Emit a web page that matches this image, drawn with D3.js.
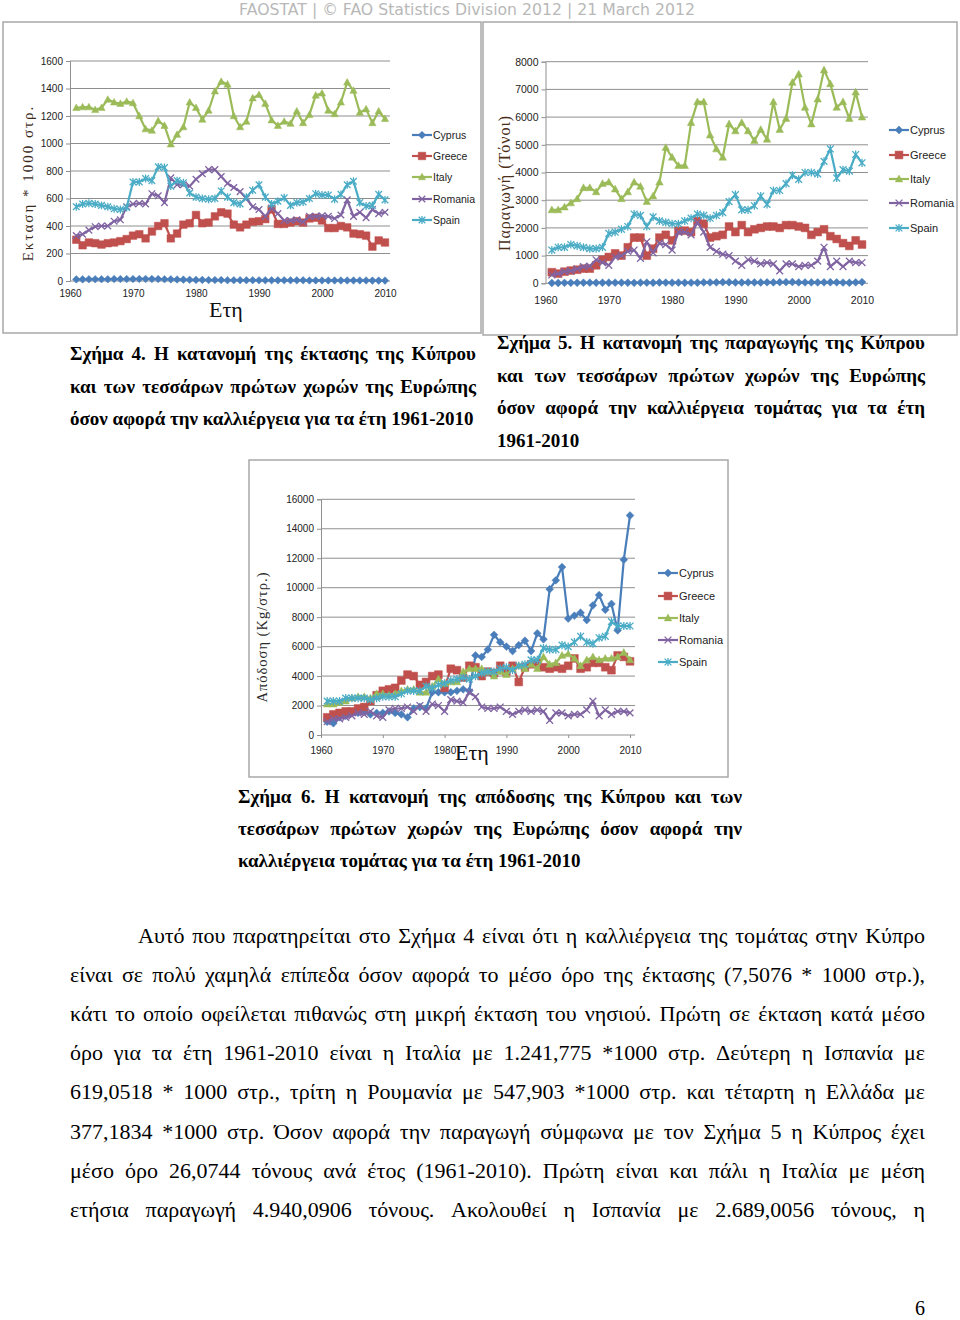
<!DOCTYPE html>
<html><head><meta charset="utf-8">
<script src="https://cdn.jsdelivr.net/npm/d3@7"></script>
<style>body{margin:0;background:#fff} svg{display:block}</style>
</head><body><svg id="page" width="960" height="1320"></svg>
<script>
// ---------- DATA ----------
const years = d3.range(1961, 2011);
const countries = ["Cyprus", "Greece", "Italy", "Romania", "Spain"];
const colors = ["#4a7ebb", "#c0504d", "#9bbb59", "#8064a2", "#4bacc6"];
const xTicks = [1960, 1970, 1980, 1990, 2000, 2010];
const areaTicks = [0, 200, 400, 600, 800, 1000, 1200, 1400, 1600];
const prodTicks = [0, 1000, 2000, 3000, 4000, 5000, 6000, 7000, 8000];
const yieldTicks = [0, 2000, 4000, 6000, 8000, 10000, 12000, 14000, 16000];

// Area (1000 str.)
const areaCyprus = [12,12,13,13,13,13,14,14,14,14, 15,15,15,14,13,12,11,10,9,8, 8,7,7,7,6,6,6,6,6,5, 5,5,5,5,5,5,5,4,4,4, 4,4,4,4,4,4,4,3,3,3];
const areaGreece = [300,260,280,275,265,275,280,290,305,330, 340,310,360,400,420,310,345,410,420,480, 420,425,470,500,490,410,390,410,430,435, 450,520,415,415,425,435,425,455,460,440, 385,385,400,390,345,340,330,250,295,280];
const areaItaly = [1260,1265,1265,1245,1260,1320,1300,1290,1305,1295, 1200,1105,1095,1165,1130,995,1065,1120,1300,1260, 1175,1240,1380,1450,1430,1200,1120,1160,1330,1355, 1290,1170,1130,1160,1145,1235,1150,1210,1350,1365, 1240,1215,1300,1445,1385,1225,1250,1150,1235,1180];
const areaRomania = [330,340,370,395,400,400,435,445,540,560, 565,560,635,620,570,750,700,700,690,740, 780,810,810,760,710,680,650,600,540,520, 470,530,490,440,440,445,430,470,470,475, 470,455,480,590,470,500,460,520,490,500];
const areaSpain = [540,560,565,560,550,540,525,520,535,720, 720,745,730,830,825,690,730,715,640,610, 600,595,600,655,610,570,560,610,660,700, 610,560,580,605,550,570,575,600,635,625, 625,595,630,700,725,570,545,550,630,590];

// Production (tonnes, chart units)
const prodCyprus = [11,10,16,17,20,20,22,20,21,21, 24,23,21,17,23,23,20,29,26,23, 23,21,22,21,32,32,35,41,38,30, 29,31,32,29,35,33,40,42,46,32, 32,33,31,35,38,34,27,21,36,45];
const prodGreece = [400,350,420,460,490,530,530,650,850,950, 1080,1000,1300,1650,1650,1000,1250,1650,1750,1550, 1900,1900,1850,2250,2150,1650,1700,1750,2050,1850, 2100,1850,1950,2000,2050,2050,2000,2100,2100,2050, 2000,1750,1850,1950,1700,1600,1450,1350,1550,1400];
const prodItaly = [2650,2650,2750,2900,3050,3450,3450,3300,3600,3650, 3400,3050,3300,3650,3500,2950,3150,3650,4900,4550, 4250,4250,5800,6550,6550,5350,4850,4550,5750,5500, 5800,5500,5150,5550,5200,6550,5550,5950,7250,7550, 6350,5750,6650,7700,7200,6350,6550,5950,6900,6000];
const prodRomania = [300,350,420,450,520,600,620,850,750,650, 950,1000,1150,1200,900,1500,1100,1450,1400,1200, 1850,1850,1750,2200,1850,1300,1150,1050,1000,800, 650,850,800,700,750,700,450,700,700,600, 650,650,800,1300,600,800,600,800,750,750];
const prodSpain = [1200,1300,1300,1400,1350,1300,1250,1250,1300,1800, 1850,1950,2050,2500,2450,2050,2400,2250,2200,2150, 2150,2250,2350,2500,2450,2350,2450,2550,2950,3200, 2650,2650,2800,3150,2850,3350,3350,3600,3900,3750, 4000,4000,3950,4400,4850,3800,4100,4050,4650,4350];

// Yield (Kg/str.)
const yieldCyprus = [900,800,1200,1300,1500,1500,1600,1400,1500,1500, 1600,1500,1400,1200,1800,1900,1800,2900,2900,2900, 2900,3000,3100,3000,5400,5300,5800,6800,6300,6000, 5700,6100,6400,5700,6900,6500,9900,10500,11400,7900, 8100,8300,7800,8800,9500,8500,8900,7100,11900,14900];
const yieldGreece = [1200,1400,1500,1600,1600,1800,1900,2300,2700,3000, 3100,3200,3700,4100,4000,3400,3600,4000,4100,3200, 4500,4400,3900,4700,4600,4000,4300,4200,4700,4300, 4700,3600,4600,4800,4900,4600,4500,4600,4500,4700, 5200,4500,4600,4900,4900,4600,4400,5400,5300,5000];
const yieldItaly = [2100,2100,2200,2300,2500,2600,2600,2500,2800,2800, 2700,2800,3000,3100,3100,2900,2900,3300,3800,3500, 3600,3600,4300,4500,4500,4500,4300,4000,4300,4100, 4500,4700,4500,4800,4500,5300,4800,4900,5400,5500, 5200,4700,5100,5300,5100,5200,5200,5300,5600,5100];
const yieldRomania = [900,1100,1100,1200,1300,1500,1400,1600,1300,1200, 1700,1800,1800,1900,1600,2000,1600,2100,2000,1600, 2400,2300,2200,2900,2600,1900,1800,1800,1900,1600, 1400,1600,1700,1600,1700,1600,1000,1500,1500,1300, 1400,1400,1700,2300,1300,1700,1400,1600,1600,1500];
const yieldSpain = [2300,2300,2300,2500,2500,2500,2500,2400,2500,2600, 2600,2600,2800,3000,3000,3000,3300,3200,3400,3500, 3700,3800,3900,3800,4000,4200,4300,4300,4500,4600, 4400,4700,4800,5100,5100,5900,5800,5800,6100,6000, 6300,6700,6300,6200,6600,6700,7700,7400,7400,7400];

// Texts
const headerText = "FAOSTAT | © FAO Statistics Division 2012 | 21 March 2012";
const caption4 = ["Σχήμα 4. Η κατανομή της έκτασης της Κύπρου", "και των τεσσάρων πρώτων χωρών της Ευρώπης", "όσον αφορά την καλλιέργεια για τα έτη 1961-2010"];
const caption5 = ["Σχήμα 5. Η κατανομή της παραγωγής της Κύπρου", "και των τεσσάρων πρώτων χωρών της Ευρώπης", "όσον αφορά την καλλιέργεια τομάτας για τα έτη", "1961-2010"];
const caption6 = ["Σχήμα 6. Η κατανομή της απόδοσης της Κύπρου και των", "τεσσάρων πρώτων χωρών της Ευρώπης όσον αφορά την", "καλλιέργεια τομάτας για τα έτη 1961-2010"];
const bodyLines = [
 "Αυτό που παρατηρείται στο Σχήμα 4 είναι ότι η καλλιέργεια της τομάτας στην Κύπρο",
 "είναι σε πολύ χαμηλά επίπεδα όσον αφορά το μέσο όρο της έκτασης (7,5076 * 1000 στρ.),",
 "κάτι το οποίο οφείλεται πιθανώς στη μικρή έκταση του νησιού. Πρώτη σε έκταση κατά μέσο",
 "όρο για τα έτη 1961-2010 είναι η Ιταλία με 1.241,775 *1000 στρ. Δεύτερη η Ισπανία με",
 "619,0518 * 1000 στρ., τρίτη η Ρουμανία με 547,903 *1000 στρ. και τέταρτη η Ελλάδα με",
 "377,1834 *1000 στρ. Όσον αφορά την παραγωγή σύμφωνα με τον Σχήμα 5 η Κύπρος έχει",
 "μέσο όρο 26,0744 τόνους ανά έτος (1961-2010). Πρώτη είναι και πάλι η Ιταλία με μέση",
 "ετήσια παραγωγή 4.940,0906 τόνους. Ακολουθεί η Ισπανία με  2.689,0056 τόνους, η"
];
const pageNumber = "6";

// ---------- DRAWING ----------
const svg = d3.select("#page");
const TICKFONT = "'Liberation Sans Narrow','Arial Narrow','Liberation Sans',Arial,sans-serif";
const SERIF = "'Liberation Serif','Times New Roman',serif";

function markerPath(i, s) {
  switch (i) {
    case 0: return `M0,${-s*1.15}L${s*1.15},0L0,${s*1.15}L${-s*1.15},0Z`;
    case 1: return `M${-s},${-s}H${s}V${s}H${-s}Z`;
    case 2: return `M0,${-s*1.15}L${s*1.1},${s*0.85}L${-s*1.1},${s*0.85}Z`;
    case 3: return `M${-s},${-s}L${s},${s}M${-s},${s}L${s},${-s}`;
    default: return `M${-s},${-s}L${s},${s}M${-s},${s}L${s},${-s}M0,${-s*1.2}V${s*1.2}`;
  }
}

function drawChart(cfg) {
  const g = svg.append("g");
  g.append("rect").attr("x", cfg.frame[0]).attr("y", cfg.frame[1])
    .attr("width", cfg.frame[2]).attr("height", cfg.frame[3])
    .attr("fill", "#fff").attr("stroke", "#a8a8a8").attr("stroke-width", 1.5);
  const x = d3.scaleLinear().domain([1960, 2010]).range([cfg.x0, cfg.x1]);
  const y = d3.scaleLinear().domain([0, cfg.ticks[cfg.ticks.length - 1]]).range([cfg.y0, cfg.y1]);
  g.selectAll(".grid").data(cfg.ticks).enter().append("line")
    .attr("x1", cfg.x0).attr("x2", cfg.gridEnd)
    .attr("y1", d => y(d)).attr("y2", d => y(d))
    .attr("stroke", "#8f8f8f").attr("stroke-width", 1);
  const ya = d3.axisLeft(y).tickValues(cfg.ticks).tickSize(4).tickPadding(3).tickFormat(d3.format("d"));
  const yg = g.append("g").attr("transform", `translate(${cfg.x0},0)`).call(ya);
  yg.select(".domain").attr("stroke", "#8f8f8f");
  yg.selectAll(".tick line").attr("stroke", "#8f8f8f");
  yg.selectAll("text").attr("font-family", TICKFONT).attr("font-size", cfg.tickSize).attr("fill", "#222");
  const xa = d3.axisBottom(x).tickValues(xTicks).tickSize(cfg.xTickLen).tickPadding(cfg.xPad).tickFormat(d3.format("d"));
  const xg = g.append("g").attr("transform", `translate(0,${cfg.y0})`).call(xa);
  xg.select(".domain").remove();
  xg.selectAll(".tick line").attr("stroke", "#8f8f8f");
  xg.selectAll("text").attr("font-family", TICKFONT).attr("font-size", cfg.tickSize).attr("fill", "#222");
  const line = d3.line().x((d, i) => x(years[i])).y(d => y(d));
  cfg.series.forEach((vals, si) => {
    const sg = g.append("g");
    sg.append("path").attr("d", line(vals)).attr("fill", "none")
      .attr("stroke", colors[si]).attr("stroke-width", 2.2).attr("stroke-linejoin", "round");
    sg.selectAll("path.m").data(vals).enter().append("path").attr("class", "m")
      .attr("transform", (d, i) => `translate(${x(years[i])},${y(d)})`)
      .attr("d", markerPath(si, si === 1 ? cfg.ms * 1.15 : cfg.ms))
      .attr("fill", si < 3 ? colors[si] : "none")
      .attr("stroke", colors[si]).attr("stroke-width", si < 3 ? 0.5 : 1.3);
  });
  const lg = g.append("g");
  countries.forEach((c, i) => {
    const ly = cfg.legY[i];
    lg.append("line").attr("x1", cfg.legX).attr("x2", cfg.legX + 20).attr("y1", ly).attr("y2", ly)
      .attr("stroke", colors[i]).attr("stroke-width", 2.2);
    lg.append("path").attr("transform", `translate(${cfg.legX + 10},${ly})`).attr("d", markerPath(i, i === 1 ? cfg.ms * 1.15 : cfg.ms))
      .attr("fill", i < 3 ? colors[i] : "none").attr("stroke", colors[i]).attr("stroke-width", i < 3 ? 0.5 : 1.3);
    lg.append("text").attr("x", cfg.legX + 21).attr("y", ly + 4).text(c)
      .attr("font-family", TICKFONT).attr("font-size", cfg.legSize).attr("fill", "#222");
  });
  g.append("text").attr("transform", `translate(${cfg.yt[0]},${cfg.yt[1]}) rotate(-90)`)
    .attr("text-anchor", "middle").attr("font-family", SERIF).attr("font-size", cfg.ytSize)
    .attr("letter-spacing", cfg.ytSpacing).attr("fill", cfg.ytColor).text(cfg.yTitle);
  if (cfg.xTitle) {
    g.append("text").attr("x", cfg.xt[0]).attr("y", cfg.xt[1]).attr("text-anchor", "middle")
      .attr("font-family", SERIF).attr("font-size", 22).attr("fill", "#111").text(cfg.xTitle);
  }
}

drawChart({
  frame: [3, 22, 478, 311], x0: 70, x1: 385, y0: 281, y1: 61, gridEnd: 390,
  ticks: areaTicks, tickSize: 10, xTickLen: 0, xPad: 9, ms: 3.3,
  series: [areaCyprus, areaGreece, areaItaly, areaRomania, areaSpain],
  legX: 412, legY: [135, 156, 177, 199, 220], legSize: 10.5,
  yTitle: "Εκταση * 1000 στρ.", yt: [33, 183], ytSize: 15, ytSpacing: 2, ytColor: "#3b2a1c",
  xTitle: "Ετη", xt: [226, 317]
});
drawChart({
  frame: [483, 22, 474, 313], x0: 545.5, x1: 862, y0: 283.3, y1: 61.7, gridEnd: 868,
  ticks: prodTicks, tickSize: 10.5, xTickLen: 0, xPad: 13, ms: 3.4,
  series: [prodCyprus, prodGreece, prodItaly, prodRomania, prodSpain],
  legX: 889, legY: [130, 155, 179, 203, 228], legSize: 11,
  yTitle: "Παραγωγή (Τόνοι)", yt: [510, 183], ytSize: 16, ytSpacing: 1, ytColor: "#4a2e17",
  xTitle: null
});
drawChart({
  frame: [249, 460, 479, 317], x0: 321, x1: 630, y0: 735, y1: 499.3, gridEnd: 635,
  ticks: yieldTicks, tickSize: 10, xTickLen: 3, xPad: 9, ms: 3.4,
  series: [yieldCyprus, yieldGreece, yieldItaly, yieldRomania, yieldSpain],
  legX: 658, legY: [573, 596, 618, 640, 662], legSize: 11,
  yTitle: "Απόδοση (Kg/στρ.)", yt: [267, 637], ytSize: 14.5, ytSpacing: 1, ytColor: "#2a2a2a",
  xTitle: "Ετη", xt: [472, 760]
});

svg.append("text").attr("x", 467).attr("y", 15).attr("text-anchor", "middle")
  .attr("font-family", "'DejaVu Sans','Open Sans',sans-serif").attr("font-size", 15.7)
  .attr("fill", "#b8b8b8").text(headerText);

function textLine(str, x, y, width, size, weight) {
  const t = svg.append("text").attr("y", y).attr("font-family", SERIF)
    .attr("font-size", size).attr("font-weight", weight).attr("fill", "#000");
  const words = str.split(" ").filter(w => w.length);
  if (!width || words.length < 2) { t.attr("x", x).text(str); return; }
  const spans = words.map(w => t.append("tspan").text(w));
  const widths = spans.map(s => s.node().getComputedTextLength());
  const gap = (width - d3.sum(widths)) / (words.length - 1);
  let cx = x;
  spans.forEach((s, i) => { s.attr("x", cx); if (i < words.length - 1) s.text(words[i] + " "); cx += widths[i] + gap; });
}

caption4.forEach((l, i) => textLine(l, 70, 360 + i * 32.5, i < 2 ? 406 : 0, 19, "bold"));
caption5.forEach((l, i) => textLine(l, 497, 349 + i * 32.5, i < 3 ? 428 : 0, 19, "bold"));
caption6.forEach((l, i) => textLine(l, 238, 803 + i * 32, i < 2 ? 504 : 0, 19, "bold"));
bodyLines.forEach((l, i) => textLine(l, i === 0 ? 138 : 70, 943 + i * 39.1, i === 0 ? 787 : 855, 22, "normal"));

svg.append("text").attr("x", 925).attr("y", 1315).attr("text-anchor", "end")
  .attr("font-family", SERIF).attr("font-size", 20).attr("fill", "#000").text(pageNumber);
</script></body></html>
